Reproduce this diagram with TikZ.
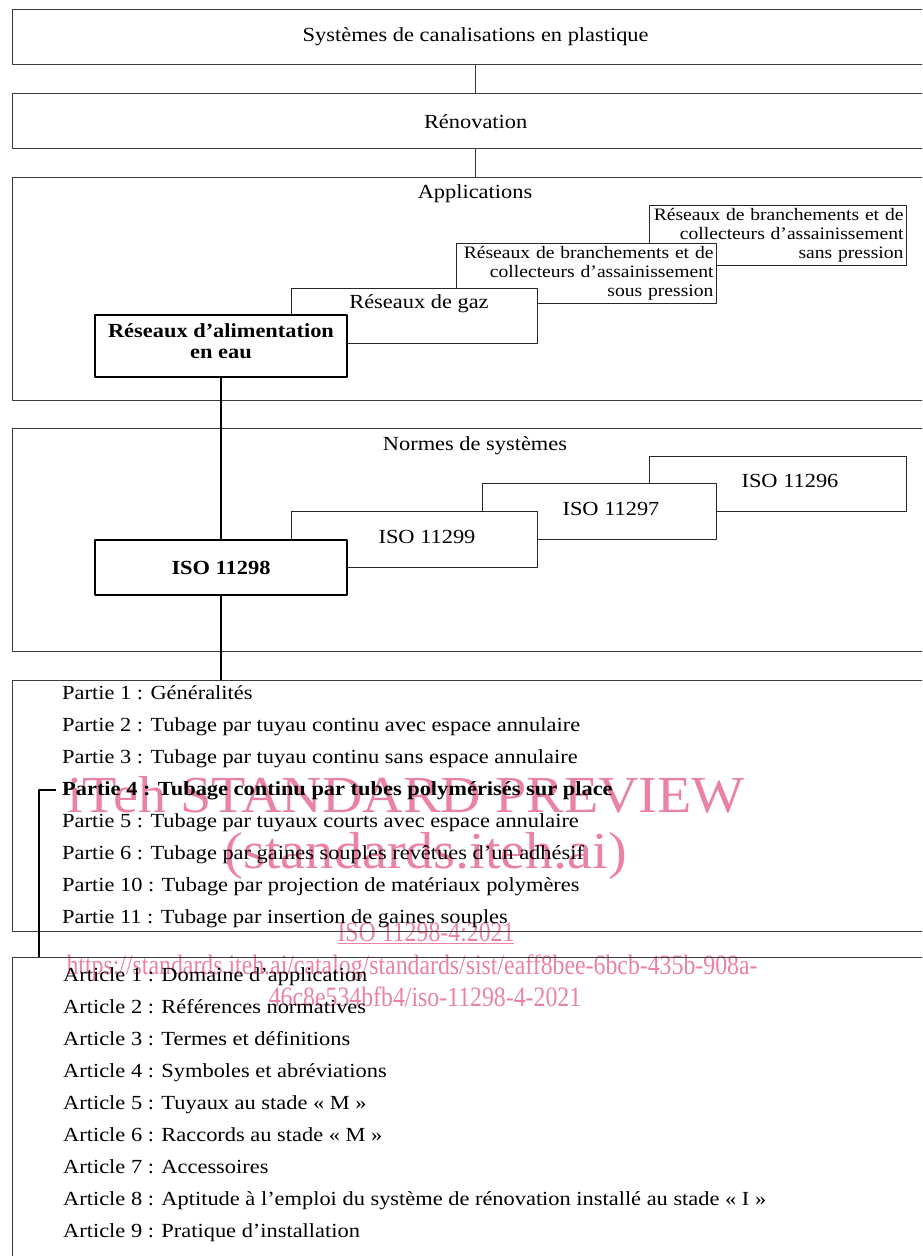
\documentclass[tikz,border=0pt]{standalone}
\usepackage{fontspec}
\setmainfont[FakeStretch=1.12]{Liberation Serif}
\newfontfamily\wmfont[FakeStretch=1.08]{Liberation Serif}
\newfontfamily\wmnarrow[FakeStretch=0.85]{Liberation Serif}
\usetikzlibrary{positioning}
\definecolor{itehpink}{RGB}{234,130,165}
\definecolor{framegray}{RGB}{60,60,60}
\newcommand{\mainsz}{\fontsize{20}{21}\selectfont}
\newcommand{\smallsz}{\fontsize{17.5}{19}\selectfont}
\tikzset{
  frame/.style={draw=framegray, line width=1.3pt, anchor=north west, minimum width=926pt, inner sep=0pt, font=\mainsz},
  stepbox/.style={draw=black!85, line width=1pt, fill=white, anchor=north west, inner sep=0pt},
  notebox/.style={stepbox, font=\smallsz, align=right, text width=251pt, inner xsep=3pt, minimum height=60pt},
  keybox/.style={draw=black, line width=2.5pt, fill=white, font=\mainsz\bfseries, align=center, inner sep=0pt},
  boxtext/.style={font=\mainsz, inner sep=0pt, text height=14pt, text depth=4pt},
  listitem/.style={anchor=west, inner sep=6pt, font=\mainsz, text height=14pt, text depth=4pt},
  thinlink/.style={draw=framegray, line width=1.3pt},
  thicklink/.style={line width=2.5pt},
  wm/.style={text=itehpink, anchor=base, inner sep=0pt}
}
\begin{document}
\begin{tikzpicture}[x=1pt, y=-1pt, line join=round]
\useasboundingbox (0,0) rectangle (922,1256);
\clip (0,0) rectangle (922,1256);
% filigrane
\node[wm, font=\wmfont\fontsize{52}{52}\selectfont] (wm1) at (406,812) {iTeh STANDARD PREVIEW};
\node[wm, font=\wmfont\fontsize{52}{52}\selectfont] (wm2) at (426,868) {(standards.iteh.ai)};
\node[wm, font=\wmnarrow\fontsize{28}{28}\selectfont] (wm3) at (426,941) {\underline{ISO 11298-4:2021}};
\node[wm, font=\wmnarrow\fontsize{28}{28}\selectfont] (wm4) at (412,974) {https://standards.iteh.ai/catalog/standards/sist/eaff8bee-6bcb-435b-908a-};
\node[wm, font=\wmnarrow\fontsize{28}{28}\selectfont] (wm5) at (425,1006) {46c8e534bfb4/iso-11298-4-2021};
% cadres
\node[frame, minimum height=55pt] (plast) at (12,9) {Systèmes de canalisations en plastique};
\node[frame, minimum height=55pt] (renov) at (12,93) {Rénovation};
\node[frame, minimum height=223pt] (appl) at (12,177) {};
\node[frame, minimum height=223pt] (normes) at (12,428) {};
\node[frame, minimum height=251pt] (parties) at (12,680) {};
\node[frame, minimum height=330pt] (articles) at (12,957) {};
\draw[thinlink] (plast) -- (renov) (renov) -- (appl);
% applications
\node[boxtext] (appltitle) at (475,193) {Applications};
\node[notebox] (sanspr) at (649,205) {Réseaux de branchements et de\\collecteurs d’assainissement\\sans pression};
\node[notebox, text width=254pt] (souspr) at (456,243) {Réseaux de branchements et de\\collecteurs d’assainissement\\sous pression};
\node[stepbox, minimum width=246pt, minimum height=55pt] (gaz) at (291,288) {};
\node[boxtext] (gaztxt) at (419,303) {Réseaux de gaz};
\node[keybox, minimum width=252pt, minimum height=62pt] (eau) at (221,346) {};
\node[font=\mainsz\bfseries, align=center, inner sep=0pt] (eautxt) at (221,341.5) {Réseaux d’alimentation\\en eau};
% normes
\node[boxtext] (normtitle) at (475,445) {Normes de systèmes};
\node[stepbox, minimum width=257pt, minimum height=55pt] (iso96) at (649,456) {};
\node[boxtext] (t96) at (790,482) {ISO 11296};
\node[stepbox, minimum width=234pt, minimum height=56pt] (iso97) at (482,483) {};
\node[boxtext] (t97) at (611,510) {ISO 11297};
\node[stepbox, minimum width=246pt, minimum height=56pt] (iso99) at (291,511) {};
\node[boxtext] (t99) at (427,538) {ISO 11299};
\node[keybox, minimum width=252pt, minimum height=55pt] (iso98) at (221,567.5) {ISO 11298};
\draw[thicklink] (eau) -- (iso98) (iso98) -- (iso98 |- parties.north);
% parties
\foreach \t [count=\i] in {Partie 1 : Généralités,
  Partie 2 : Tubage par tuyau continu avec espace annulaire,
  Partie 3 : Tubage par tuyau continu sans espace annulaire,
  \textbf{Partie 4 : Tubage continu par tubes polymérisés sur place},
  Partie 5 : Tubage par tuyaux courts avec espace annulaire,
  Partie 6 : Tubage par gaines souples revêtues d’un adhésif,
  Partie 10 : Tubage par projection de matériaux polymères,
  Partie 11 : Tubage par insertion de gaines souples}
  \node[listitem] (part\i) at (56,{662+32*\i}) {\t};
\coordinate (turn) at (39,790);
\draw[thicklink] (part4.west) -- (turn) -- (turn |- articles.north);
% articles
\foreach \t [count=\i] in {Article 1 : Domaine d’application,
  Article 2 : Références normatives,
  Article 3 : Termes et définitions,
  Article 4 : Symboles et abréviations,
  Article 5 : Tuyaux au stade « M »,
  Article 6 : Raccords au stade « M »,
  Article 7 : Accessoires,
  Article 8 : Aptitude à l’emploi du système de rénovation installé au stade « I »,
  Article 9 : Pratique d’installation}
  \node[listitem] (art\i) at (57,{944+32*\i}) {\t};
\end{tikzpicture}
\end{document}
